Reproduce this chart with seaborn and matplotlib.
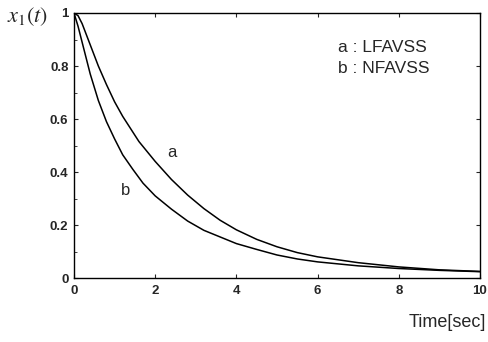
import numpy as np
import pandas as pd
import matplotlib
matplotlib.use("Agg")
import matplotlib.pyplot as plt
import seaborn as sns
from matplotlib.ticker import MultipleLocator

# =====================================
# Data
# =====================================
t_a = [0, 0.1, 0.2, 0.4, 0.6, 0.8, 1.0, 1.2, 1.6, 2.0, 2.4, 2.8, 3.2, 3.6,
       4.0, 4.5, 5.0, 5.5, 6.0, 7.0, 8.0, 9.0, 10.0]
x_a = [1.0, 0.99, 0.96, 0.88, 0.80, 0.73, 0.665, 0.61, 0.515, 0.44, 0.372,
       0.313, 0.262, 0.218, 0.182, 0.146, 0.118, 0.096, 0.08, 0.058, 0.042,
       0.031, 0.025]

t_b = [0, 0.1, 0.2, 0.4, 0.6, 0.8, 1.0, 1.2, 1.45, 1.7, 2.0, 2.4, 2.8, 3.2,
       3.6, 4.0, 4.5, 5.0, 5.5, 6.0, 7.0, 8.0, 9.0, 10.0]
x_b = [1.0, 0.95, 0.89, 0.77, 0.67, 0.59, 0.525, 0.465, 0.41, 0.358, 0.31,
       0.26, 0.215, 0.18, 0.155, 0.13, 0.108, 0.087, 0.072, 0.061, 0.046,
       0.036, 0.029, 0.024]

x_ticks = [0, 2, 4, 6, 8, 10]
y_ticks = [0, 0.2, 0.4, 0.6, 0.8, 1]
y_tick_labels = ["0", "0.2", "0.4", "0.6", "0.8", "1"]

df = pd.concat([
    pd.DataFrame({"t": t_a, "x1": x_a, "method": "a"}),
    pd.DataFrame({"t": t_b, "x1": x_b, "method": "b"}),
])

# =====================================
# Plot
# =====================================
sns.set_style("ticks")
plt.rcParams['font.family'] = ['Liberation Sans', 'DejaVu Sans']

fig = plt.figure(figsize=(4.88, 3.42), dpi=100)
ax = fig.add_axes([0.1516, 0.187, 0.832, 0.775])

sns.lineplot(data=df, x="t", y="x1", units="method", estimator=None,
             color="black", linewidth=1.1, ax=ax, legend=False)

ax.set_xlim(0, 10)
ax.set_ylim(0, 1)
ax.set_xticks(x_ticks)
ax.set_xticklabels([str(v) for v in x_ticks], fontweight="bold", fontsize=9.5)
ax.set_yticks(y_ticks)
ax.set_yticklabels(y_tick_labels, fontweight="bold", fontsize=9.5)
ax.yaxis.set_minor_locator(MultipleLocator(0.1))
ax.tick_params(direction="in", top=True, right=True, length=3, width=0.8)
ax.tick_params(axis="x", pad=5)
ax.tick_params(axis="y", pad=4)
ax.tick_params(which="minor", direction="in", left=True, right=False, length=2)
ax.set_xlabel("")
ax.set_ylabel("")
for s in ax.spines.values():
    s.set_linewidth(1.0)
    s.set_color("black")

# curve labels
ax.text(2.41, 0.475, "a", fontsize=12, ha="center", va="center")
ax.text(1.26, 0.332, "b", fontsize=12, ha="center", va="center")

# legend-like text
ax.text(6.5, 0.868, "a : LFAVSS", fontsize=12.5, va="center")
ax.text(6.5, 0.792, "b : NFAVSS", fontsize=12.5, va="center")

# axis titles
fig.text(0.015, 0.95, r"$x_1(t)$", fontsize=16, math_fontfamily="stix",
         va="center", ha="left")
fig.text(0.996, 0.058, "Time[sec]", fontsize=13, va="center", ha="right")

fig.savefig("out.png", dpi=100)
